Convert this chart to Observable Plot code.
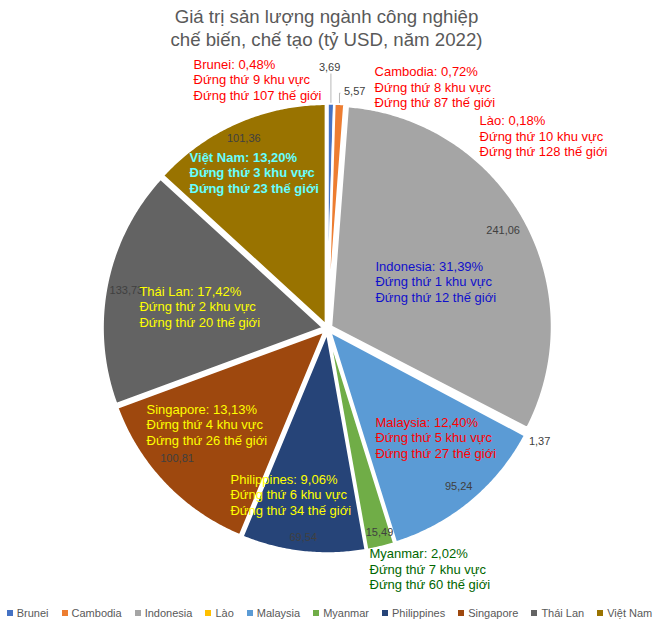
<!DOCTYPE html>
<html><head><meta charset="utf-8">
<script src="https://cdn.jsdelivr.net/npm/d3@7"></script>
<script src="https://cdn.jsdelivr.net/npm/@observablehq/plot@0.6"></script>
<style>
body{margin:0;background:#fff;width:659px;overflow:hidden;}
#title{height:52px;box-sizing:border-box;padding-top:5px;padding-right:6px;text-align:center;font-family:"Liberation Sans",Arial,sans-serif;font-size:18.67px;line-height:23px;color:#595959;}
#chart svg{display:block;}
#legend > div{display:flex !important;justify-content:center;align-items:center;min-height:0 !important;height:25px;margin:0 !important;flex-wrap:nowrap !important;font-family:"Liberation Sans",Arial,sans-serif !important;font-size:11px !important;color:#595959;}
#legend > div > span{margin-right:13px !important;display:inline-flex;align-items:center;}
#legend > div > span:last-child{margin-right:0 !important;}
#legend > div > span > svg{margin-right:4px !important;}
</style></head>
<body>
<div id="title">Giá trị sản lượng ngành công nghiệp<br>chế biến, chế tạo (tỷ USD, năm 2022)</div>
<div id="chart"></div>
<div id="legend"></div>
<script>
// ---- data ----
const countries = ["Brunei","Cambodia","Indonesia","Lào","Malaysia","Myanmar","Philippines","Singapore","Thái Lan","Việt Nam"];
const values = [3.69, 5.57, 241.06, 1.37, 95.24, 15.49, 69.54, 100.81, 133.73, 101.36];
const shares = ["0,48%","0,72%","31,39%","0,18%","12,40%","2,02%","9,06%","13,13%","17,42%","13,20%"];
const rankRegion = [9, 8, 1, 10, 5, 7, 6, 4, 2, 3];
const rankWorld = [107, 87, 12, 128, 27, 60, 34, 26, 20, 23];

// ---- styles ----
const colors = ["#4472C4","#ED7D31","#A5A5A5","#FFC000","#5B9BD5","#70AD47","#264478","#9E480E","#636363","#997300"];
const labelColors = ["#FF0000","#FF0000","#1010CC","#FF0000","#FF0000","#006600","#FFFF00","#FFFF00","#FFFF00","#66FFFF"];
const labelBold = [false,false,false,false,false,false,false,false,false,true];

// ---- layout (pie units: radius = 1, y up) ----
const labelPos = [[-0.606,1.127],[0.213,1.095],[0.217,0.213],[0.688,0.873],[0.217,-0.493],[0.190,-1.086],[-0.439,-0.751],[-0.819,-0.434],[-0.851,0.100],[-0.624,0.706]];
const valueR = [1.18, 1.08, 0.91, 1.087, 0.93, 0.952, 0.952, 0.9, 0.926, 0.94];
const valueTurn = [-0.4, 3.5, 0, 0.3, 0, -0.6, 0.4, 3, -0.5, 0];
const leader = [true, true, false, false, false, false, false, false, false, false];

const W = 659, H = 548, R = 221, CX = 327, CY = 276;
const EXPLODE = 4 / R;
const polar = (a, r) => [r * Math.sin(a), r * Math.cos(a)];
const fmt = v => v.toFixed(2).replace(".", ",");

const arcs = d3.pie().sort(null).value(d => d)(values);
const mids = arcs.map(a => (a.startAngle + a.endAngle) / 2);

// slice outlines
const slicePts = [];
arcs.forEach((a, i) => {
  const [ox, oy] = polar(mids[i], EXPLODE);
  const n = Math.max(2, Math.ceil((a.endAngle - a.startAngle) / (Math.PI / 360)));
  slicePts.push({name: countries[i], x: ox, y: oy});
  for (let k = 0; k <= n; k++) {
    const t = a.startAngle + (a.endAngle - a.startAngle) * k / n;
    const [px, py] = polar(t, 1);
    slicePts.push({name: countries[i], x: ox + px, y: oy + py});
  }
  slicePts.push({name: countries[i], x: ox, y: oy});
});

// value label positions
const valuePts = arcs.map((a, i) => {
  const [x, y] = polar(mids[i] + valueTurn[i] * Math.PI / 180, valueR[i]);
  return {x, y, text: fmt(values[i])};
});

// leader lines
const leaderPts = [];
arcs.forEach((a, i) => {
  if (!leader[i]) return;
  const [sx, sy] = polar(mids[i], 1 + EXPLODE + 0.005);
  const v = valuePts[i];
  if (Math.abs(v.x - sx) < 0.03) {
    leaderPts.push({k: i, x: sx, y: sy}, {k: i, x: sx, y: v.y - 0.028});
  } else {
    const halfW = v.text.length * 3 / R;
    leaderPts.push({k: i, x: sx, y: sy}, {k: i, x: sx, y: v.y - 0.008}, {k: i, x: v.x - halfW - 0.012, y: v.y - 0.008});
  }
});

const labelMarks = countries.map((c, i) => Plot.text([i], {
  x: () => labelPos[i][0],
  y: () => labelPos[i][1],
  text: () => `${c}: ${shares[i]}\nĐứng thứ ${rankRegion[i]} khu vực\nĐứng thứ ${rankWorld[i]} thế giới`,
  textAnchor: "start",
  lineAnchor: "middle",
  lineHeight: 1.2,
  fontSize: 13,
  fontFamily: "Liberation Sans, Arial, sans-serif",
  fontWeight: labelBold[i] ? "bold" : "normal",
  fill: labelColors[i]
}));

const chart = Plot.plot({
  width: W, height: H, margin: 0,
  style: {background: "white"},
  x: {domain: [-1, 1], range: [CX - R, CX + R], axis: null},
  y: {domain: [-1, 1], range: [CY + R, CY - R], axis: null},
  color: {domain: countries, range: colors},
  marks: [
    Plot.line(slicePts, {x: "x", y: "y", z: "name", fill: "name", stroke: "white", strokeWidth: 2.5, curve: "linear"}),
    Plot.line(leaderPts, {x: "x", y: "y", z: "k", stroke: "#A6A6A6", strokeWidth: 0.8, curve: "linear"}),
    Plot.text(valuePts, {x: "x", y: "y", text: "text", fill: "#404040", fontSize: 11, fontFamily: "Liberation Sans, Arial, sans-serif"}),
    ...labelMarks
  ]
});
document.getElementById("chart").appendChild(chart);

const legend = Plot.legend({
  color: {type: "ordinal", domain: countries, range: colors},
  legend: "swatches",
  swatchSize: 6,
  className: "lg"
});
document.getElementById("legend").appendChild(legend);
</script>
</body></html>
